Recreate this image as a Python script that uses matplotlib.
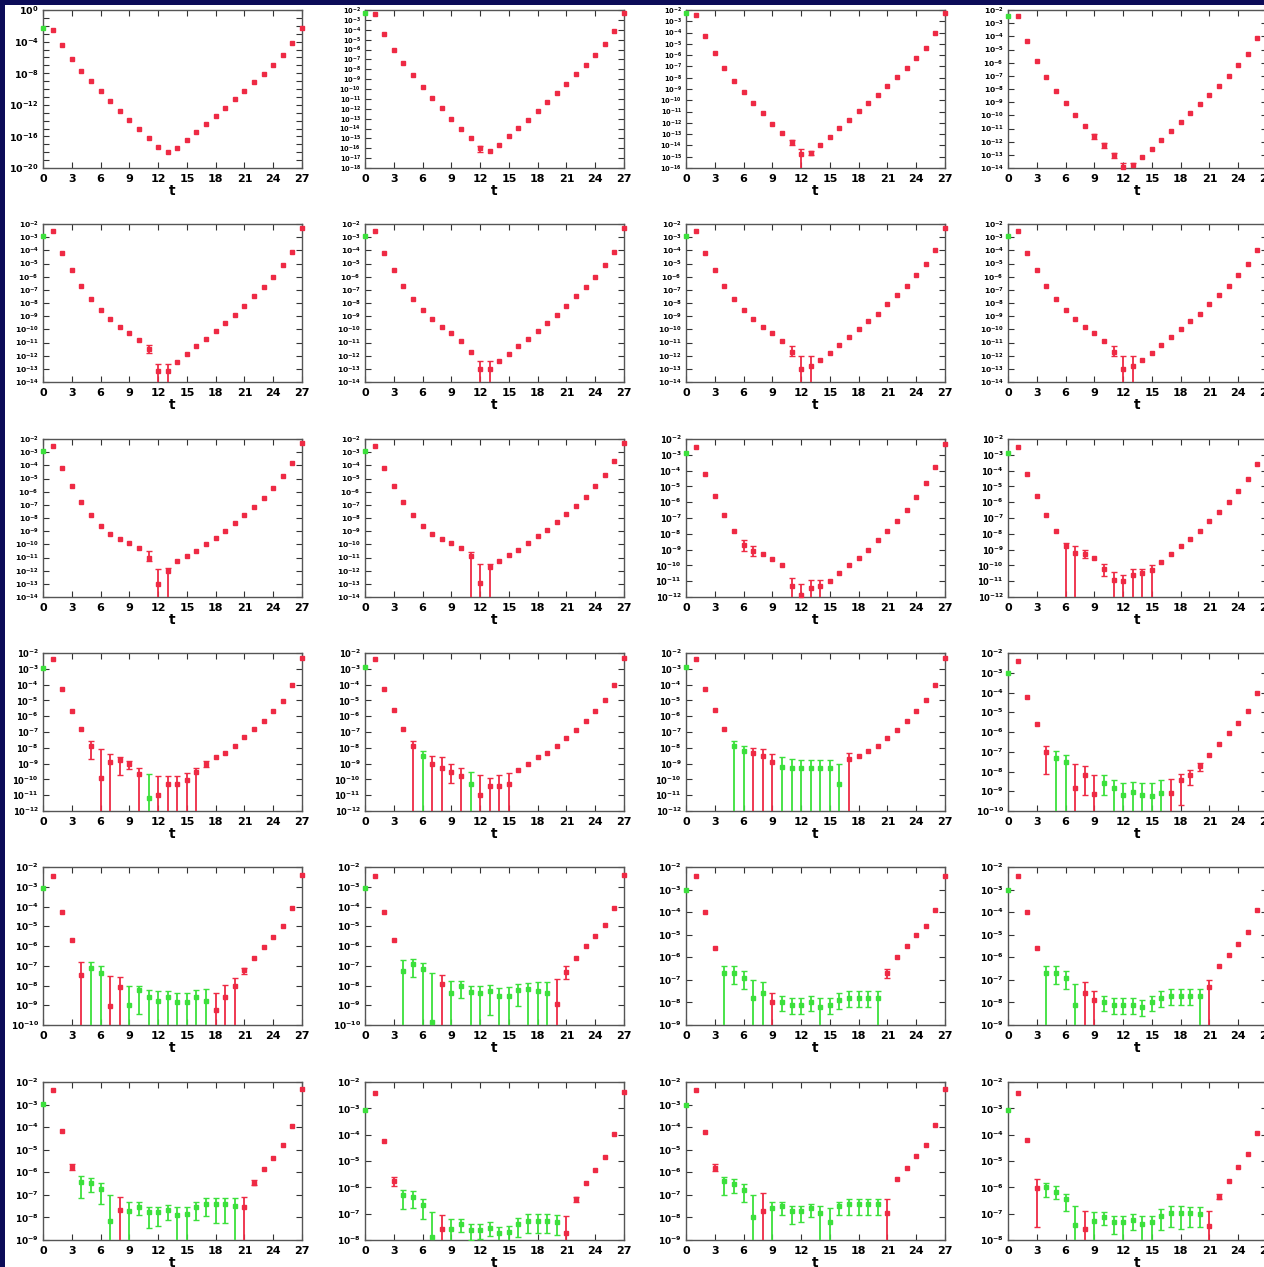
import numpy as np
import matplotlib
matplotlib.use("Agg")
import matplotlib.pyplot as plt
from matplotlib.ticker import FixedLocator, FuncFormatter, NullFormatter, NullLocator
from matplotlib.patches import Rectangle

# ---------------- data (log10 of |C(t)|, colour r = positive, g = negative) -------------
T = list(range(28))
XTICKS = [0, 3, 6, 9, 12, 15, 18, 21, 24, 27]

# y-range exponents of each panel (bottom, top)
YRANGE = [(-20, 0), (-18, -2), (-16, -2), (-14, -2),
          (-14, -2), (-14, -2), (-14, -2), (-14, -2),
          (-14, -2), (-14, -2), (-12, -2), (-12, -2),
          (-12, -2), (-12, -2), (-12, -2), (-10, -2),
          (-10, -2), (-10, -2), (-9, -2), (-9, -2),
          (-9, -2), (-8, -2), (-9, -2), (-8, -2)]

R1C1 = [-2.34, -2.55, -4.47, -6.17, -7.66, -9.0, -10.3, -11.57, -12.77, -13.9, -15.1, -16.17, -17.3, -17.96,
        -17.45, -16.47, -15.5, -14.47, -13.45, -12.4, -11.3, -10.2, -9.15, -8.1, -6.94, -5.66, -4.17, -2.26]
R1C1_COL = "grrrrrrrrrrrrrrrrrrrrrrrrrrr"
R1C1_ERR = {}

R1C2 = [-2.27, -2.4, -4.38, -6.0, -7.34, -8.63, -9.82, -10.9, -11.93, -12.99, -14.0, -15.0, -15.95, -16.3,
        -15.7, -14.8, -13.97, -13.1, -12.2, -11.3, -10.4, -9.45, -8.53, -7.58, -6.56, -5.44, -4.1, -2.27]
R1C2_COL = "grrrrrrrrrrrrrrrrrrrrrrrrrrr"
R1C2_ERR = {12: (-16.35, -15.8)}

R1C3 = [-2.3, -2.42, -4.3, -5.83, -7.18, -8.29, -9.28, -10.23, -11.16, -12.09, -12.93, -13.74, -14.72, -14.63,
        -13.98, -13.23, -12.48, -11.73, -10.98, -10.26, -9.54, -8.77, -7.96, -7.15, -6.28, -5.35, -4.07, -2.24]
R1C3_COL = "grrrrrrrrrrrrrrrrrrrrrrrrrrr"
R1C3_ERR = {11: (-13.95, -13.55), 12: (-99, -14.3), 13: (-14.85, -14.45)}

R1C4 = [-2.43, -2.48, -4.39, -5.87, -7.09, -8.16, -9.1, -9.94, -10.78, -11.6, -12.28, -13.04, -13.96, -13.76,
        -13.17, -12.53, -11.85, -11.21, -10.49, -9.86, -9.14, -8.46, -7.75, -7.01, -6.2, -5.31, -4.14, -2.25]
R1C4_COL = "grrrrrrrrrrrrrrrrrrrrrrrrrrr"
R1C4_ERR = {9: (-11.8, -11.45), 10: (-12.45, -12.1), 11: (-13.25, -12.85), 12: (-99, -13.6), 13: (-99, -13.6)}

R2C1 = [-2.9, -2.5, -4.2, -5.5, -6.7, -7.7, -8.5, -9.2, -9.8, -10.3, -10.8, -11.5, -13.2, -13.2,
        -12.5, -11.9, -11.3, -10.7, -10.1, -9.5, -8.9, -8.2, -7.5, -6.8, -6.0, -5.1, -4.1, -2.3]
R2C1_COL = "grrrrrrrrrrrrrrrrrrrrrrrrrrr"
R2C1_ERR = {11: (-11.8, -11.2), 12: (-99, -12.6), 13: (-99, -12.6)}

R2C2 = [-2.9, -2.5, -4.2, -5.5, -6.7, -7.7, -8.5, -9.2, -9.8, -10.3, -10.9, -11.7, -13.0, -13.0,
        -12.4, -11.9, -11.3, -10.7, -10.1, -9.5, -8.9, -8.2, -7.5, -6.8, -6.0, -5.1, -4.1, -2.3]
R2C2_COL = "grrrrrrrrrrrrrrrrrrrrrrrrrrr"
R2C2_ERR = {12: (-99, -12.4), 13: (-99, -12.4)}

R2C3 = [-2.9, -2.5, -4.2, -5.5, -6.7, -7.7, -8.5, -9.2, -9.8, -10.3, -10.9, -11.7, -13.0, -12.8,
        -12.3, -11.8, -11.2, -10.6, -10.0, -9.4, -8.8, -8.1, -7.4, -6.7, -5.9, -5.0, -4.0, -2.3]
R2C3_COL = "grrrrrrrrrrrrrrrrrrrrrrrrrrr"
R2C3_ERR = {11: (-12.0, -11.3), 12: (-99, -12.0), 13: (-99, -12.0)}

R2C4 = [-2.9, -2.5, -4.2, -5.5, -6.7, -7.7, -8.5, -9.2, -9.8, -10.3, -10.9, -11.7, -13.0, -12.8,
        -12.3, -11.8, -11.2, -10.6, -10.0, -9.4, -8.8, -8.1, -7.4, -6.7, -5.9, -5.0, -4.0, -2.3]
R2C4_COL = "grrrrrrrrrrrrrrrrrrrrrrrrrrr"
R2C4_ERR = {11: (-12.0, -11.3), 12: (-99, -12.0), 13: (-99, -12.0)}

R3C1 = [-2.9, -2.5, -4.2, -5.6, -6.8, -7.8, -8.6, -9.2, -9.6, -9.9, -10.3, -11.0, -13.0, -12.0,
        -11.3, -10.9, -10.5, -10.0, -9.5, -9.0, -8.4, -7.8, -7.2, -6.5, -5.7, -4.8, -3.8, -2.3]
R3C1_COL = "grrrrrrrrrrrrrrrrrrrrrrrrrrr"
R3C1_ERR = {11: (-11.3, -10.5), 12: (-99, -11.9), 13: (-99, -11.8)}

R3C2 = [-2.9, -2.5, -4.2, -5.6, -6.8, -7.8, -8.6, -9.2, -9.6, -9.9, -10.3, -10.9, -12.9, -11.7,
        -11.3, -10.8, -10.4, -9.9, -9.4, -8.9, -8.3, -7.7, -7.1, -6.4, -5.6, -4.7, -3.7, -2.3]
R3C2_COL = "grrrrrrrrrrrrrrrrrrrrrrrrrrr"
R3C2_ERR = {11: (-99, -10.6), 12: (-99, -11.5), 13: (-99, -11.5)}

R3C3 = [-2.9, -2.5, -4.2, -5.6, -6.8, -7.8, -8.7, -9.1, -9.3, -9.6, -10.0, -11.3, -11.9, -11.4,
        -11.3, -11.0, -10.5, -10.0, -9.5, -9.0, -8.4, -7.8, -7.2, -6.5, -5.7, -4.8, -3.8, -2.3]
R3C3_COL = "grrrrrrrrrrrrrrrrrrrrrrrrrrr"
R3C3_ERR = {6: (-9.1, -8.4), 7: (-9.4, -8.8), 11: (-99, -10.8), 12: (-99, -11.2), 13: (-99, -10.9), 14: (-99, -10.9)}

R3C4 = [-2.9, -2.5, -4.2, -5.6, -6.8, -7.8, -8.8, -9.2, -9.3, -9.5, -10.2, -10.9, -11.0, -10.6,
        -10.5, -10.3, -9.8, -9.3, -8.8, -8.3, -7.8, -7.2, -6.6, -6.0, -5.3, -4.5, -3.6, -2.3]
R3C4_COL = "grrrrrrrrrrrrrrrrrrrrrrrrrrr"
R3C4_ERR = {6: (-99, -8.6), 7: (-99, -8.8), 8: (-9.5, -9.0), 10: (-10.7, -9.9), 11: (-99, -10.4),
            12: (-99, -10.6), 13: (-99, -10.2), 14: (-99, -10.2), 15: (-99, -10.0)}

R4C1 = [-2.93, -2.4, -4.27, -5.64, -6.81, -7.87, -9.92, -8.93, -8.78, -9.0, -9.67, -11.15, -10.98, -10.3,
        -10.3, -10.05, -9.56, -9.03, -8.6, -8.3, -7.87, -7.34, -6.81, -6.28, -5.7, -5.05, -4.0, -2.32]
R4C1_COL = "grrrrrrrrrrgrrrrrrrrrrrrrrrr"
R4C1_ERR = {5: (-8.72, -7.55), 6: (-99, -8.1), 7: (-99, -8.4), 8: (-9.7, -8.57), 9: (-9.35, -8.86),
            10: (-99, -9.29), 11: (-99, -9.63), 12: (-99, -9.77), 13: (-99, -9.77), 14: (-99, -9.77),
            15: (-99, -9.6), 16: (-99, -9.25), 17: (-9.2, -8.86)}

R4C2 = [-2.9, -2.4, -4.3, -5.6, -6.8, -7.9, -8.5, -9.0, -9.3, -9.5, -9.8, -10.3, -11.0, -10.4,
        -10.4, -10.3, -9.4, -9.0, -8.6, -8.3, -7.9, -7.4, -6.9, -6.3, -5.7, -5.0, -4.0, -2.3]
R4C2_COL = "grrrrrgrrrrgrrrrrrrrrrrrrrrr"
R4C2_ERR = {5: (-99, -7.6), 6: (-99, -8.2), 7: (-99, -8.5), 8: (-99, -8.6), 9: (-10.2, -9.0),
            10: (-99, -9.3), 11: (-99, -9.5), 12: (-99, -9.7), 13: (-99, -9.9), 14: (-99, -9.7), 15: (-99, -9.6)}

R4C3 = [-2.9, -2.4, -4.3, -5.6, -6.8, -7.9, -8.2, -8.3, -8.5, -8.9, -9.2, -9.3, -9.3, -9.3,
        -9.3, -9.3, -10.3, -8.7, -8.5, -8.2, -7.9, -7.4, -6.9, -6.3, -5.7, -5.0, -4.0, -2.3]
R4C3_COL = "grrrrggrrrgggggggrrrrrrrrrrr"
R4C3_ERR = {5: (-99, -7.6), 6: (-99, -7.9), 7: (-99, -8.0), 8: (-99, -8.1), 9: (-99, -8.4),
            10: (-99, -8.6), 11: (-99, -8.7), 12: (-99, -8.8), 13: (-99, -8.8), 14: (-99, -8.8),
            15: (-99, -8.8), 16: (-99, -9.0), 17: (-99, -8.3)}

R4C4 = [-3.01, -2.42, -4.21, -5.59, -6.99, -7.34, -7.54, -8.84, -8.17, -9.12, -8.57, -8.82, -9.2, -9.04,
        -9.17, -9.24, -9.07, -9.07, -8.41, -8.16, -7.74, -7.17, -6.59, -6.04, -5.54, -4.94, -4.0, -2.3]
R4C4_COL = "grrrrggrrrgggggggrrrrrrrrrrr"
R4C4_ERR = {4: (-8.12, -6.71), 5: (-99, -6.96), 6: (-99, -7.17), 7: (-99, -7.62), 8: (-9.2, -7.71),
            9: (-99, -8.2), 10: (-9.2, -8.2), 11: (-99, -8.45), 12: (-99, -8.57), 13: (-99, -8.55),
            14: (-99, -8.58), 15: (-99, -8.57), 16: (-99, -8.45), 17: (-99, -8.37), 18: (-9.7, -8.12),
            19: (-8.7, -7.9), 20: (-7.95, -7.55)}

R5C1 = [-3.08, -2.45, -4.27, -5.68, -7.48, -7.1, -7.36, -9.05, -8.06, -8.97, -8.22, -8.56, -8.76, -8.6,
        -8.85, -8.85, -8.56, -8.8, -9.25, -8.56, -8.02, -7.23, -6.61, -6.07, -5.54, -4.99, -4.07, -2.41]
R5C1_COL = "grrrrggrrgggggggggrrrrrrrrrr"
R5C1_ERR = {4: (-99, -6.81), 5: (-99, -6.81), 6: (-99, -7.03), 7: (-99, -7.51), 8: (-99, -7.59),
            9: (-99, -8.0), 10: (-9.42, -8.0), 11: (-99, -8.22), 12: (-99, -8.3), 13: (-99, -8.3),
            14: (-99, -8.36), 15: (-99, -8.36), 16: (-99, -8.22), 17: (-99, -8.19), 18: (-99, -8.39),
            19: (-99, -7.98), 20: (-99, -7.64), 21: (-7.43, -7.1)}

R5C2 = [-3.08, -2.45, -4.27, -5.68, -7.28, -6.9, -7.15, -9.83, -7.94, -8.39, -8.02, -8.31, -8.39, -8.26,
        -8.51, -8.51, -8.22, -8.17, -8.26, -8.39, -8.92, -7.31, -6.6, -6.02, -5.49, -4.95, -4.07, -2.41]
R5C2_COL = "grrrggggrgggggggggggrrrrrrrr"
R5C2_ERR = {4: (-99, -6.73), 5: (-7.59, -6.65), 6: (-99, -6.86), 7: (-99, -7.39), 8: (-99, -7.48),
            9: (-99, -7.76), 10: (-8.64, -7.76), 11: (-99, -8.0), 12: (-99, -8.02), 13: (-9.47, -7.98),
            14: (-99, -8.14), 15: (-99, -8.09), 16: (-9.05, -7.94), 17: (-99, -7.86), 18: (-99, -7.81),
            19: (-99, -7.81), 20: (-99, -7.68), 21: (-7.69, -7.03)}

R5C3 = [-3.0, -2.4, -4.0, -5.6, -6.7, -6.7, -6.9, -7.8, -7.6, -8.0, -8.0, -8.1, -8.1, -8.0,
        -8.2, -8.1, -7.9, -7.8, -7.8, -7.8, -7.8, -6.7, -6.0, -5.5, -5.0, -4.6, -3.9, -2.4]
R5C3_COL = "grrrgggggrgggggggggggrrrrrrr"
R5C3_ERR = {4: (-99, -6.4), 5: (-7.2, -6.4), 6: (-7.4, -6.6), 7: (-99, -7.0), 8: (-99, -7.1),
            9: (-99, -7.6), 10: (-8.4, -7.7), 11: (-8.5, -7.8), 12: (-8.5, -7.8), 13: (-8.4, -7.7),
            14: (-99, -7.8), 15: (-8.5, -7.8), 16: (-8.3, -7.6), 17: (-8.2, -7.5), 18: (-8.2, -7.5),
            19: (-8.2, -7.5), 20: (-99, -7.5), 21: (-6.9, -6.5)}

R5C4 = [-3.0, -2.4, -4.0, -5.6, -6.7, -6.7, -6.9, -8.1, -7.6, -7.9, -8.0, -8.1, -8.1, -8.1,
        -8.2, -8.0, -7.8, -7.7, -7.7, -7.7, -7.7, -7.3, -6.4, -5.9, -5.4, -4.9, -3.9, -2.4]
R5C4_COL = "grrrggggrrgggggggggggrrrrrrr"
R5C4_ERR = {4: (-99, -6.4), 5: (-7.2, -6.4), 6: (-7.4, -6.6), 7: (-99, -7.2), 8: (-99, -7.1),
            9: (-99, -7.5), 10: (-8.4, -7.7), 11: (-8.5, -7.8), 12: (-8.5, -7.8), 13: (-8.5, -7.8),
            14: (-8.6, -7.9), 15: (-8.4, -7.7), 16: (-8.2, -7.5), 17: (-8.1, -7.4), 18: (-8.1, -7.4),
            19: (-8.1, -7.4), 20: (-99, -7.4), 21: (-99, -7.0)}

R6C1 = [-2.96, -2.34, -4.18, -5.76, -6.42, -6.46, -6.74, -8.14, -7.67, -7.7, -7.52, -7.78, -7.78, -7.67,
        -7.89, -7.85, -7.52, -7.41, -7.41, -7.41, -7.48, -7.52, -6.46, -5.86, -5.36, -4.81, -3.94, -2.3]
R6C1_COL = "grrrggggrggggggggggggrrrrrrr"
R6C1_ERR = {3: (-5.88, -5.64), 4: (-7.16, -6.17), 5: (-6.88, -6.24), 6: (-7.4, -6.49), 7: (-99, -7.0),
            8: (-99, -7.11), 9: (-99, -7.33), 10: (-7.9, -7.33), 11: (-8.48, -7.52), 12: (-8.4, -7.52),
            13: (-8.1, -7.45), 14: (-99, -7.52), 15: (-99, -7.56), 16: (-8.1, -7.3), 17: (-7.95, -7.16),
            18: (-8.26, -7.13), 19: (-8.26, -7.13), 20: (-99, -7.16), 21: (-99, -7.11), 22: (-6.55, -6.36)}

R6C2 = [-3.05, -2.43, -4.23, -5.77, -6.31, -6.36, -6.68, -7.88, -7.59, -7.57, -7.41, -7.63, -7.63, -7.53,
        -7.75, -7.69, -7.41, -7.26, -7.26, -7.28, -7.32, -7.72, -6.46, -5.84, -5.34, -4.85, -3.98, -2.37]
R6C2_COL = "grrrggggrggggggggggggrrrrrrr"
R6C2_ERR = {3: (-5.95, -5.6), 4: (-6.83, -6.09), 5: (-6.78, -6.15), 6: (-7.22, -6.43), 7: (-99, -6.95),
            8: (-99, -7.05), 9: (-99, -7.2), 10: (-7.7, -7.2), 11: (-8.0, -7.41), 12: (-7.95, -7.41),
            13: (-7.85, -7.32), 14: (-99, -7.5), 15: (-99, -7.45), 16: (-7.87, -7.16), 17: (-7.72, -7.01),
            18: (-7.72, -7.01), 19: (-7.72, -7.01), 20: (-7.8, -7.05), 21: (-99, -7.1), 22: (-6.55, -6.36)}

R6C3 = [-3.0, -2.35, -4.2, -5.8, -6.4, -6.5, -6.8, -8.0, -7.7, -7.6, -7.5, -7.7, -7.7, -7.6,
        -7.8, -8.2, -7.5, -7.4, -7.4, -7.4, -7.4, -7.8, -6.3, -5.8, -5.3, -4.8, -3.9, -2.3]
R6C3_COL = "grrrggggrggggggggggggrrrrrrr"
R6C3_ERR = {3: (-5.95, -5.65), 4: (-7.0, -6.2), 5: (-6.9, -6.3), 6: (-7.3, -6.5), 7: (-99, -7.0),
            8: (-99, -6.9), 9: (-99, -7.3), 10: (-7.9, -7.3), 11: (-8.3, -7.5), 12: (-8.2, -7.5),
            13: (-8.0, -7.4), 14: (-99, -7.5), 15: (-99, -7.6), 16: (-7.9, -7.3), 17: (-7.9, -7.2),
            18: (-7.9, -7.2), 19: (-7.9, -7.2), 20: (-7.9, -7.2), 21: (-99, -7.2)}

R6C4 = [-3.07, -2.41, -4.21, -6.01, -5.99, -6.16, -6.45, -7.44, -7.59, -7.29, -7.13, -7.32, -7.32, -7.23,
        -7.4, -7.32, -7.07, -6.97, -6.97, -6.97, -7.0, -7.47, -6.35, -5.76, -5.24, -4.75, -3.94, -2.3]
R6C4_COL = "grrrggggrggggggggggggrrrrrrr"
R6C4_ERR = {3: (-7.5, -5.7), 4: (-6.35, -5.83), 5: (-6.45, -5.95), 6: (-6.88, -6.24), 7: (-99, -6.7),
            8: (-99, -6.88), 9: (-99, -6.94), 10: (-7.44, -6.94), 11: (-7.76, -7.07), 12: (-99, -7.07),
            13: (-7.63, -7.0), 14: (-99, -7.1), 15: (-99, -7.07), 16: (-7.63, -6.82), 17: (-7.5, -6.7),
            18: (-7.57, -6.7), 19: (-7.5, -6.76), 20: (-7.5, -6.76), 21: (-99, -6.88), 22: (-6.45, -6.25)}

PANELS = [
    (R1C1, R1C1_COL, R1C1_ERR), (R1C2, R1C2_COL, R1C2_ERR), (R1C3, R1C3_COL, R1C3_ERR), (R1C4, R1C4_COL, R1C4_ERR),
    (R2C1, R2C1_COL, R2C1_ERR), (R2C2, R2C2_COL, R2C2_ERR), (R2C3, R2C3_COL, R2C3_ERR), (R2C4, R2C4_COL, R2C4_ERR),
    (R3C1, R3C1_COL, R3C1_ERR), (R3C2, R3C2_COL, R3C2_ERR), (R3C3, R3C3_COL, R3C3_ERR), (R3C4, R3C4_COL, R3C4_ERR),
    (R4C1, R4C1_COL, R4C1_ERR), (R4C2, R4C2_COL, R4C2_ERR), (R4C3, R4C3_COL, R4C3_ERR), (R4C4, R4C4_COL, R4C4_ERR),
    (R5C1, R5C1_COL, R5C1_ERR), (R5C2, R5C2_COL, R5C2_ERR), (R5C3, R5C3_COL, R5C3_ERR), (R5C4, R5C4_COL, R5C4_ERR),
    (R6C1, R6C1_COL, R6C1_ERR), (R6C2, R6C2_COL, R6C2_ERR), (R6C3, R6C3_COL, R6C3_ERR), (R6C4, R6C4_COL, R6C4_ERR),
]

# ---------------- layout -------------
W, H = 1264, 1267
NAVY = "#0c0c58"
RED = "#ee2a44"
GREEN = "#3ce03c"
COLOR = {"r": RED, "g": GREEN}

fig = plt.figure(figsize=(W / 100, H / 100), dpi=100, facecolor=NAVY)
fig.patches.append(Rectangle((5 / W, 0), 1, 1 - 5 / H, transform=fig.transFigure,
                             facecolor="white", edgecolor="none", zorder=-10))

LEFTS = [43, 365, 686, 1008]
TOPS = [10, 224, 439, 653, 867, 1082]
AW, AH = 259, 158

def fmt(v, _):
    e = int(round(np.log10(v)))
    return r"$\mathbf{10^{%d}}$" % e

for i, (vals, cols, errs) in enumerate(PANELS):
    r, c = divmod(i, 4)
    ax = fig.add_axes([LEFTS[c] / W, 1 - (TOPS[r] + AH) / H, AW / W, AH / H])
    ax.set_facecolor("white")
    lo, hi = YRANGE[i]
    ax.set_yscale("log")
    ax.set_ylim(10.0 ** lo, 10.0 ** hi)
    ax.set_xlim(0, 27)
    for tt in T:
        v = vals[tt]
        col = COLOR[cols[tt]]
        y = 10.0 ** v
        if tt in errs:
            elo, ehi = errs[tt]
            dn = max(0.0, y - 10.0 ** elo)
            up = max(0.0, 10.0 ** ehi - y)
            ax.errorbar([tt], [y], yerr=[[dn], [up]], fmt="none",
                        ecolor=col, elinewidth=1.3, capsize=2.0, capthick=1.0, zorder=3)
        ax.plot([tt], [y], marker="s", ms=2.6, color=col, mec=col, ls="none", zorder=4, clip_on=False)
    # ticks
    ndec = hi - lo
    if i == 0:
        ax.yaxis.set_major_locator(FixedLocator([10.0 ** e for e in range(lo, hi + 1, 4)]))
        ax.yaxis.set_minor_locator(FixedLocator([10.0 ** e for e in range(lo, hi + 1)]))
        ysize = 6.8
    else:
        ax.yaxis.set_major_locator(FixedLocator([10.0 ** e for e in range(lo, hi + 1)]))
        ax.yaxis.set_minor_locator(NullLocator())
        ysize = 6.5 if ndec <= 8 else (6.0 if ndec <= 10 else (5.4 if ndec <= 12 else 4.8))
    ax.yaxis.set_major_formatter(FuncFormatter(fmt))
    ax.yaxis.set_minor_formatter(NullFormatter())
    ax.set_xticks(XTICKS)
    ax.xaxis.set_minor_locator(NullLocator())
    ax.tick_params(axis="both", which="both", direction="in", top=True, right=True,
                   length=4, width=0.8, color="#333333")
    ax.tick_params(axis="y", which="major", labelsize=ysize, pad=3)
    ax.tick_params(axis="x", which="major", labelsize=8, pad=4)
    for lab in ax.get_xticklabels():
        lab.set_fontweight("bold")
    for sp in ax.spines.values():
        sp.set_color("#555555")
        sp.set_linewidth(1.0)
    ax.set_xlabel("t", fontsize=10, fontweight="bold", labelpad=0)

fig.savefig("out.png", dpi=100, facecolor=NAVY)
